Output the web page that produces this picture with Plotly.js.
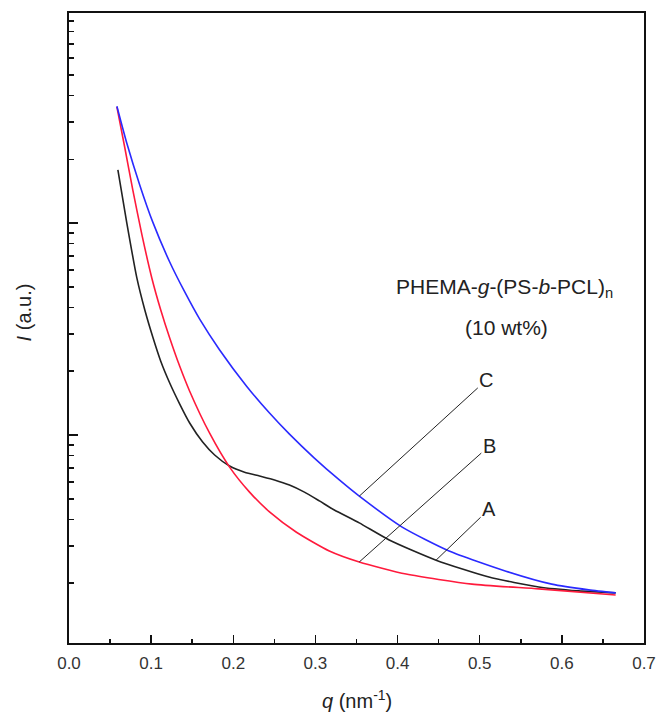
<!DOCTYPE html>
<html>
<head>
<meta charset="utf-8">
<script src="https://cdn.plot.ly/plotly-3.0.1.min.js"></script>
<style>html,body{margin:0;padding:0;background:#fff;}#chart{width:659px;height:714px;}</style>
</head>
<body>
<div id="chart"></div>
<script>
// q (nm^-1) and intensity I (a.u.)
const qA = [0.0595,0.0704,0.0826,0.0923,0.1020,0.1117,0.1226,0.1348,0.1469,0.1627,0.1773,0.1955,0.2137,0.2319,0.2502,0.2684,0.2866,0.3048,0.3230,0.3534,0.3898,0.4469,0.5112,0.5719,0.6205,0.6655];
const iA = [17.8,10.0,5.51,3.89,2.90,2.23,1.76,1.40,1.14,0.927,0.805,0.714,0.668,0.641,0.614,0.581,0.538,0.489,0.443,0.385,0.320,0.257,0.214,0.192,0.184,0.180];

const qB = [0.0583,0.0680,0.0777,0.0886,0.1008,0.1117,0.1226,0.1348,0.1469,0.1712,0.1955,0.2198,0.2441,0.2769,0.3169,0.3534,0.4104,0.4906,0.5719,0.6655];
const iB = [35.3,22.6,14.3,8.87,5.51,3.89,2.87,2.11,1.61,1.02,0.706,0.538,0.434,0.348,0.284,0.252,0.221,0.198,0.188,0.176];

const qC = [0.0583,0.0704,0.0862,0.1020,0.1226,0.1409,0.1591,0.1834,0.2162,0.2441,0.2684,0.2987,0.3291,0.3534,0.4056,0.4627,0.5319,0.5877,0.6327,0.6655];
const iC = [35.6,23.8,15.1,10.1,6.55,4.73,3.52,2.52,1.70,1.27,1.01,0.779,0.614,0.515,0.368,0.284,0.228,0.198,0.186,0.180];

const seriesNames = ['A','B','C'];
const seriesColors = ['#222222','#ff1a3c','#2a2aff'];
const xTickVals = [0,0.1,0.2,0.3,0.4,0.5,0.6,0.7];
const xTickText = ['0.0','0.1','0.2','0.3','0.4','0.5','0.6','0.7'];
// index of the point each label's leader line points to
const labelIdx = {A: 21, B: 15, C: 13};

const qs = [qA,qB,qC], is = [iA,iB,iC];
const traces = seriesNames.map((n,k)=>({
  x: qs[k], y: is[k], type:'scatter', mode:'lines', name:n,
  line:{color:seriesColors[k], width:1.6, shape:'spline', smoothing:0.6},
  showlegend:false, hoverinfo:'skip'
}));

const font = 'Arial, "Liberation Sans", sans-serif';
const txt = '#222';
const labelOffsets = {A:[53,-51], B:[130,-116], C:[127,-116]};
const annotations = seriesNames.map((n,k)=>({
  x: qs[k][labelIdx[n]], y: Math.log10(is[k][labelIdx[n]]), xref:'x', yref:'y',
  text: n, showarrow:true, arrowhead:0, arrowwidth:1, arrowcolor:txt,
  ax: labelOffsets[n][0], ay: labelOffsets[n][1],
  font:{family:font, size:20, color:txt}
}));
annotations.push(
  {xref:'paper', yref:'paper', x:0.757, y:0.564, xanchor:'center', yanchor:'middle', showarrow:false,
   text:'PHEMA-<i>g</i>-(PS-<i>b</i>-PCL)<sub>n</sub>', font:{family:font, size:21, color:txt}},
  {xref:'paper', yref:'paper', x:0.76, y:0.501, xanchor:'center', yanchor:'middle', showarrow:false,
   text:'(10 wt%)', font:{family:font, size:21, color:txt}},
  {xref:'paper', yref:'paper', x:-0.078, y:0.525, xanchor:'center', yanchor:'middle', showarrow:false,
   textangle:-90, text:'<i>I</i> (a.u.)', font:{family:font, size:20, color:txt}},
  {xref:'paper', yref:'paper', x:0.5, y:-0.09, xanchor:'center', yanchor:'middle', showarrow:false,
   text:'<i>q</i> (nm<sup>-1</sup>)', font:{family:font, size:20, color:txt}}
);

const layout = {
  width:659, height:714,
  margin:{l:69, r:15, t:13, b:71},
  paper_bgcolor:'#fff', plot_bgcolor:'#fff',
  font:{family:font, color:txt},
  xaxis:{
    range:[0,0.7], tickvals:xTickVals, ticktext:xTickText,
    ticks:'inside', ticklen:8, tickwidth:1.5, tickcolor:'#111',
    minor:{ticks:'inside', ticklen:4, tickwidth:1.5, dtick:0.05, tickcolor:'#111'},
    showline:true, linecolor:'#111', linewidth:1.6, mirror:true,
    showgrid:false, zeroline:false, ticklabelstandoff:4,
    tickfont:{family:font, size:17, color:'#333'}
  },
  yaxis:{
    type:'log', range:[-0.981, 1.991], dtick:1,
    ticks:'inside', ticklen:9, tickwidth:1.5, tickcolor:'#111',
    minor:{ticks:'inside', ticklen:5, tickwidth:1.5, dtick:'D1', tickcolor:'#111'},
    showticklabels:false,
    showline:true, linecolor:'#111', linewidth:1.6, mirror:true,
    showgrid:false, zeroline:false
  },
  annotations: annotations
};

Plotly.newPlot('chart', traces, layout, {displayModeBar:false, staticPlot:true});
</script>
</body>
</html>
